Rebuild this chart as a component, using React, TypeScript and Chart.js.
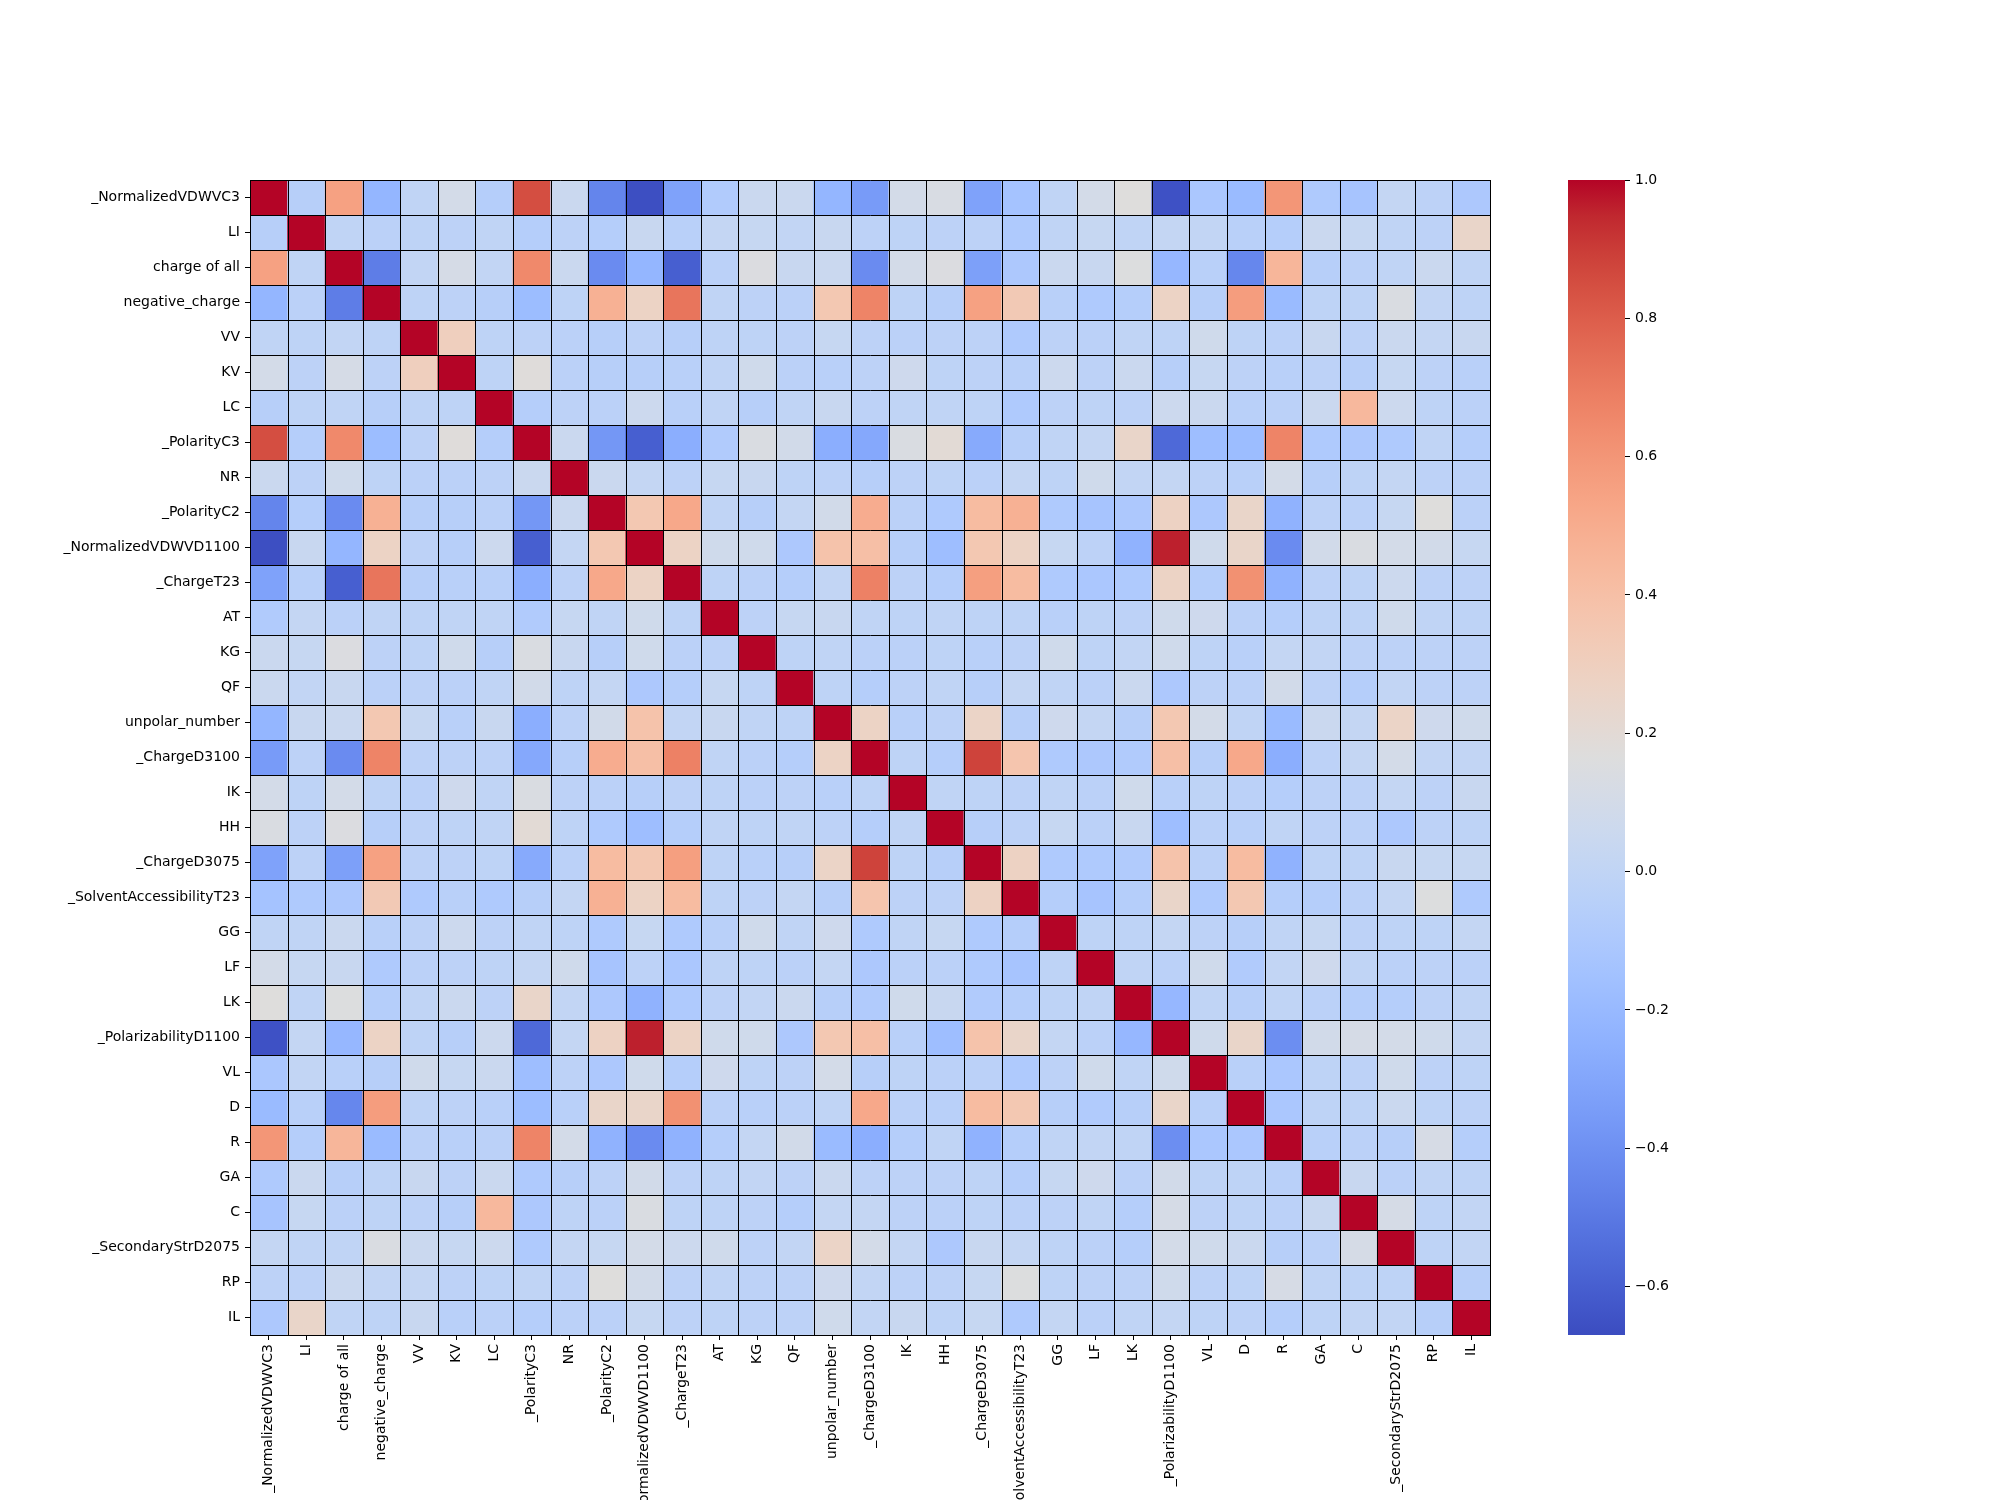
import React, { useEffect, useRef } from "react";
import { Chart, registerables } from "chart.js";

Chart.register(...registerables);

const LABELS = [
  "_NormalizedVDWVC3", "LI", "charge of all", "negative_charge", "VV", "KV", "LC",
  "_PolarityC3", "NR", "_PolarityC2", "_NormalizedVDWVD1100", "_ChargeT23", "AT", "KG",
  "QF", "unpolar_number", "_ChargeD3100", "IK", "HH", "_ChargeD3075",
  "_SolventAccessibilityT23", "GG", "LF", "LK", "_PolarizabilityD1100", "VL", "D", "R",
  "GA", "C", "_SecondaryStrD2075", "RP", "IL",
];

const VMIN = -0.67;
const VMAX = 1.0;
const CB_TICKS = [-0.6, -0.4, -0.2, 0.0, 0.2, 0.4, 0.6, 0.8, 1.0];

const R00 = [1, -0.05, 0.55, -0.22, 0.0, 0.1, -0.06, 0.85, 0.05, -0.45, -0.66, -0.32, -0.08, 0.05, 0.05, -0.22, -0.35, 0.1, 0.13, -0.32, -0.14, 0.0, 0.1, 0.17, -0.65, -0.11, -0.19, 0.6, -0.09, -0.13, 0.02, -0.02, -0.1];
const R01 = [-0.05, 1, 0.0, -0.03, -0.01, -0.02, 0.0, -0.06, -0.02, -0.06, 0.04, -0.04, 0.02, 0.03, 0.01, 0.04, -0.02, -0.01, -0.02, -0.02, -0.09, 0.0, 0.03, 0.0, 0.02, 0.01, -0.04, -0.06, 0.05, 0.03, 0.0, -0.02, 0.25];
const R02 = [0.55, 0.0, 1, -0.48, 0.01, 0.11, 0.01, 0.65, 0.05, -0.42, -0.22, -0.6, -0.03, 0.15, 0.04, 0.05, -0.42, 0.1, 0.15, -0.33, -0.1, 0.05, 0.04, 0.16, -0.21, -0.04, -0.44, 0.45, -0.05, -0.03, 0.0, 0.05, 0.0];
const R03 = [-0.22, -0.03, -0.48, 1, -0.01, -0.02, -0.05, -0.18, -0.01, 0.48, 0.27, 0.72, 0.0, -0.02, -0.03, 0.35, 0.67, -0.01, -0.05, 0.55, 0.34, -0.04, -0.09, -0.06, 0.27, -0.05, 0.57, -0.19, -0.01, -0.01, 0.14, 0.01, -0.01];
const R04 = [0.0, -0.01, 0.01, -0.01, 1, 0.3, -0.01, -0.02, -0.03, -0.05, -0.02, -0.05, -0.01, -0.01, -0.02, 0.03, -0.02, -0.03, -0.02, -0.02, -0.09, -0.02, -0.03, 0.0, -0.01, 0.08, -0.01, -0.03, 0.04, -0.02, 0.05, 0.02, 0.04];
const R05 = [0.1, -0.02, 0.11, -0.02, 0.3, 1, -0.01, 0.18, -0.03, -0.05, -0.05, -0.04, 0.0, 0.08, -0.03, -0.04, -0.02, 0.07, -0.01, -0.02, -0.04, 0.06, -0.02, 0.05, -0.05, 0.03, -0.02, -0.04, -0.02, -0.05, 0.03, -0.02, -0.04];
const R06 = [-0.05, -0.01, 0.0, -0.05, -0.01, -0.01, 1, -0.06, -0.02, -0.03, 0.06, -0.04, 0.0, -0.05, 0.0, 0.04, -0.02, 0.0, 0.0, -0.01, -0.09, -0.02, -0.01, -0.02, 0.06, 0.05, -0.04, -0.03, 0.05, 0.44, 0.06, -0.01, -0.03];
const R07 = [0.85, -0.06, 0.65, -0.18, -0.02, 0.18, -0.06, 1, 0.05, -0.37, -0.6, -0.26, -0.08, 0.14, 0.09, -0.26, -0.29, 0.14, 0.2, -0.28, -0.05, 0.0, 0.02, 0.25, -0.56, -0.17, -0.18, 0.67, -0.09, -0.1, -0.09, 0.0, -0.06];
const R08 = [0.05, -0.02, 0.08, -0.01, -0.03, -0.03, -0.02, 0.05, 1, 0.05, 0.02, -0.02, 0.03, 0.04, -0.01, -0.02, -0.05, -0.02, -0.01, -0.03, 0.02, -0.01, 0.08, 0.01, 0.02, -0.02, -0.04, 0.1, -0.05, -0.01, 0.02, -0.02, -0.03];
const R09 = [-0.45, -0.06, -0.42, 0.48, -0.05, -0.05, -0.03, -0.37, 0.05, 1, 0.35, 0.52, 0.0, -0.05, 0.02, 0.09, 0.5, -0.03, -0.09, 0.42, 0.48, -0.09, -0.13, -0.1, 0.28, -0.1, 0.25, -0.24, -0.02, -0.03, 0.03, 0.17, -0.03];
const R10 = [-0.66, 0.04, -0.22, 0.27, -0.02, -0.05, 0.06, -0.6, 0.02, 0.35, 1, 0.27, 0.08, 0.08, -0.1, 0.38, 0.4, -0.05, -0.17, 0.35, 0.27, 0.03, -0.02, -0.24, 0.96, 0.08, 0.25, -0.42, 0.09, 0.14, 0.1, 0.09, 0.03];
const R11 = [-0.32, -0.04, -0.6, 0.72, -0.05, -0.04, -0.04, -0.26, -0.02, 0.52, 0.27, 1, -0.01, -0.03, -0.06, 0.01, 0.68, -0.02, -0.06, 0.56, 0.42, -0.09, -0.11, -0.09, 0.27, -0.06, 0.62, -0.24, -0.02, -0.01, 0.06, -0.02, -0.02];
const R12 = [-0.08, 0.02, -0.03, 0.0, -0.01, 0.0, 0.0, -0.08, 0.03, 0.0, 0.08, -0.01, 1, -0.02, 0.03, 0.04, 0.0, -0.01, 0.0, -0.01, -0.01, -0.04, -0.01, -0.02, 0.08, 0.07, -0.03, -0.06, -0.01, -0.01, 0.08, 0.0, -0.01];
const R13 = [0.05, 0.03, 0.15, -0.02, -0.01, 0.08, -0.05, 0.14, 0.04, -0.05, 0.08, -0.03, -0.02, 1, -0.01, 0.0, -0.03, -0.03, -0.01, -0.04, -0.02, 0.08, -0.01, 0.01, 0.08, -0.01, -0.04, 0.02, 0.01, -0.02, -0.02, -0.02, -0.02];
const R14 = [0.05, 0.01, 0.04, -0.03, -0.02, -0.03, 0.0, 0.09, -0.01, 0.02, -0.1, -0.06, 0.03, -0.01, 1, -0.01, -0.06, -0.02, 0.0, -0.05, 0.02, 0.0, -0.03, 0.05, -0.1, -0.02, -0.03, 0.09, -0.02, -0.06, 0.01, -0.02, -0.02];
const R15 = [-0.22, 0.04, 0.05, 0.35, 0.03, -0.04, 0.04, -0.26, -0.02, 0.09, 0.38, 0.01, 0.04, 0.0, -0.01, 1, 0.27, -0.04, -0.02, 0.26, -0.05, 0.07, 0.02, -0.05, 0.35, 0.1, 0.0, -0.19, 0.05, 0.02, 0.26, 0.07, 0.08];
const R16 = [-0.35, -0.02, -0.42, 0.67, -0.02, -0.02, -0.02, -0.29, -0.05, 0.5, 0.4, 0.68, 0.0, -0.03, -0.06, 0.27, 1, -0.01, -0.06, 0.88, 0.37, -0.09, -0.1, -0.08, 0.4, -0.05, 0.52, -0.26, -0.02, 0.02, 0.1, 0.01, 0.01];
const R17 = [0.1, -0.01, 0.1, -0.01, -0.03, 0.07, 0.0, 0.14, -0.02, -0.03, -0.05, -0.02, -0.01, -0.03, -0.02, -0.04, -0.01, 1, 0.0, -0.01, -0.02, 0.0, -0.03, 0.08, -0.04, -0.01, -0.03, -0.06, -0.02, -0.02, 0.02, -0.02, 0.04];
const R18 = [0.14, -0.02, 0.15, -0.05, -0.02, -0.01, 0.0, 0.2, -0.01, -0.09, -0.17, -0.06, 0.0, -0.01, 0.0, -0.02, -0.06, 0.0, 1, -0.05, -0.02, 0.03, -0.03, 0.04, -0.17, -0.03, -0.04, 0.0, -0.02, -0.03, -0.1, -0.02, -0.01];
const R19 = [-0.32, -0.02, -0.33, 0.55, -0.02, -0.02, -0.01, -0.28, -0.03, 0.42, 0.35, 0.56, -0.01, -0.04, -0.05, 0.26, 0.88, -0.01, -0.05, 1, 0.28, -0.09, -0.09, -0.08, 0.38, -0.03, 0.42, -0.24, -0.01, -0.01, 0.04, 0.03, 0.03];
const R20 = [-0.14, -0.09, -0.1, 0.34, -0.09, -0.04, -0.09, -0.05, 0.02, 0.48, 0.27, 0.42, -0.01, -0.02, 0.02, -0.05, 0.37, -0.02, -0.02, 0.28, 1, -0.06, -0.13, -0.06, 0.25, -0.09, 0.35, -0.06, -0.06, -0.03, 0.02, 0.16, -0.09];
const R21 = [0.0, 0.0, 0.05, -0.04, -0.02, 0.06, -0.02, 0.0, -0.01, -0.09, 0.03, -0.09, -0.04, 0.08, 0.0, 0.07, -0.09, 0.0, 0.03, -0.09, -0.06, 1, -0.01, -0.01, 0.02, -0.02, -0.05, 0.0, 0.03, -0.02, -0.01, -0.01, 0.02];
const R22 = [0.1, 0.03, 0.04, -0.09, -0.03, -0.02, -0.01, 0.02, 0.08, -0.13, -0.02, -0.11, -0.01, -0.01, -0.03, 0.02, -0.1, -0.03, -0.03, -0.09, -0.13, -0.01, 1, 0.0, -0.03, 0.08, -0.08, 0.01, 0.07, 0.0, -0.03, -0.02, -0.03];
const R23 = [0.17, 0.0, 0.16, -0.06, 0.0, 0.05, -0.02, 0.25, 0.01, -0.1, -0.24, -0.09, -0.02, 0.01, 0.05, -0.05, -0.08, 0.08, 0.04, -0.08, -0.06, -0.01, 0.0, 1, -0.21, 0.0, -0.05, 0.0, -0.03, -0.06, -0.06, -0.02, 0.0];
const R24 = [-0.65, 0.02, -0.21, 0.27, -0.01, -0.05, 0.06, -0.56, 0.02, 0.28, 0.96, 0.27, 0.08, 0.08, -0.1, 0.35, 0.4, -0.04, -0.17, 0.38, 0.25, 0.02, -0.03, -0.21, 1, 0.08, 0.25, -0.41, 0.09, 0.11, 0.1, 0.08, 0.02];
const R25 = [-0.11, 0.01, -0.04, -0.05, 0.08, 0.03, 0.05, -0.17, -0.02, -0.1, 0.08, -0.06, 0.07, -0.01, -0.02, 0.1, -0.05, -0.01, -0.03, -0.03, -0.09, -0.02, 0.08, 0.0, 0.08, 1, -0.04, -0.11, -0.01, -0.02, 0.08, -0.02, -0.01];
const R26 = [-0.19, -0.04, -0.44, 0.57, -0.01, -0.02, -0.04, -0.18, -0.04, 0.25, 0.25, 0.62, -0.03, -0.04, -0.03, 0.0, 0.52, -0.03, -0.04, 0.42, 0.35, -0.05, -0.08, -0.05, 0.25, -0.04, 1, -0.11, -0.01, -0.01, 0.05, -0.01, -0.02];
const R27 = [0.6, -0.06, 0.45, -0.19, -0.03, -0.04, -0.03, 0.67, 0.1, -0.24, -0.42, -0.24, -0.06, 0.02, 0.09, -0.19, -0.26, -0.06, 0.0, -0.24, -0.06, 0.0, 0.01, 0.0, -0.41, -0.11, -0.11, 1, -0.04, -0.03, -0.05, 0.12, -0.06];
const R28 = [-0.09, 0.05, -0.05, -0.01, 0.04, -0.02, 0.05, -0.09, -0.05, -0.02, 0.09, -0.02, -0.01, 0.01, -0.02, 0.05, -0.02, -0.02, -0.02, -0.01, -0.06, 0.03, 0.07, -0.03, 0.09, -0.01, -0.01, -0.04, 1, 0.04, -0.03, 0.0, -0.01];
const R29 = [-0.13, 0.03, -0.03, -0.01, -0.02, -0.05, 0.44, -0.1, -0.01, -0.03, 0.14, -0.01, -0.01, -0.02, -0.06, 0.02, 0.02, -0.02, -0.03, -0.01, -0.03, -0.02, 0.0, -0.06, 0.11, -0.02, -0.01, -0.03, 0.04, 1, 0.11, -0.01, 0.01];
const R30 = [0.02, 0.0, 0.0, 0.14, 0.05, 0.03, 0.06, -0.09, 0.02, 0.03, 0.1, 0.06, 0.08, -0.02, 0.01, 0.26, 0.1, 0.02, -0.1, 0.04, 0.02, -0.01, -0.03, -0.06, 0.1, 0.08, 0.05, -0.05, -0.03, 0.11, 1, -0.01, 0.01];
const R31 = [-0.02, -0.02, 0.05, 0.01, 0.02, -0.02, -0.01, 0.0, -0.02, 0.17, 0.09, -0.02, 0.0, -0.02, -0.02, 0.07, 0.01, -0.02, -0.02, 0.03, 0.16, -0.01, -0.02, -0.02, 0.08, -0.02, -0.01, 0.12, 0.0, -0.01, -0.01, 1, -0.05];
const R32 = [-0.1, 0.25, 0.0, -0.01, 0.04, -0.04, -0.03, -0.06, -0.03, -0.03, 0.03, -0.02, -0.01, -0.02, -0.02, 0.08, 0.01, 0.04, -0.01, 0.03, -0.09, 0.02, -0.03, 0.0, 0.02, -0.01, -0.02, -0.06, -0.01, 0.01, 0.01, -0.05, 1];

const MATRIX = [
  R00, R01, R02, R03, R04, R05, R06, R07, R08, R09, R10, R11, R12, R13, R14, R15, R16,
  R17, R18, R19, R20, R21, R22, R23, R24, R25, R26, R27, R28, R29, R30, R31, R32,
];

// coolwarm colormap anchors (evenly spaced from 0 to 1)
const COOLWARM: number[][] = [
  [59, 76, 192], [68, 90, 204], [77, 104, 215], [87, 117, 225], [98, 130, 234],
  [108, 142, 241], [119, 154, 247], [130, 165, 251], [141, 176, 254], [152, 185, 255],
  [163, 194, 255], [174, 201, 253], [184, 208, 249], [194, 213, 244], [204, 217, 238],
  [213, 219, 230], [221, 221, 221], [229, 216, 209], [236, 211, 197], [241, 204, 185],
  [245, 196, 173], [247, 187, 160], [247, 177, 148], [247, 166, 135], [244, 154, 123],
  [241, 141, 111], [236, 127, 99], [229, 112, 88], [222, 96, 77], [213, 80, 66],
  [203, 62, 56], [192, 40, 47], [180, 4, 38],
];

function rgbOf(c: number[]): string {
  return `rgb(${Math.round(c[0])},${Math.round(c[1])},${Math.round(c[2])})`;
}

function cmap(v: number): string {
  let t = (v - VMIN) / (VMAX - VMIN);
  t = Math.max(0, Math.min(1, t));
  const x = t * (COOLWARM.length - 1);
  const i = Math.min(Math.floor(x), COOLWARM.length - 2);
  const f = x - i;
  const a = COOLWARM[i];
  const b = COOLWARM[i + 1];
  return rgbOf([a[0] + (b[0] - a[0]) * f, a[1] + (b[1] - a[1]) * f, a[2] + (b[2] - a[2]) * f]);
}

function fmtTick(v: number): string {
  const s = Math.abs(v).toFixed(1);
  return v < -1e-9 ? "\u2212" + s : s;
}

// Draws the thin black cell edges (seaborn linewidths / linecolor) on top of the cells,
// at the category boundaries given by the chart's own scales.
const cellEdges = {
  id: "cellEdges",
  afterDatasetsDraw(chart: any) {
    const xs = chart.scales.x;
    const ys = chart.scales.y;
    const ctx = chart.ctx;
    const n = LABELS.length;
    const x0 = xs.getPixelForValue(0);
    const x1 = xs.getPixelForValue(1);
    const half = (x1 - x0) / 2;
    const top = ys.getPixelForValue(0);
    const bottom = ys.getPixelForValue(n);
    const left = x0 - half;
    const right = xs.getPixelForValue(n - 1) + half;
    ctx.save();
    ctx.strokeStyle = "#000";
    ctx.lineWidth = 1;
    ctx.beginPath();
    for (let i = 0; i <= n; i++) {
      const x = Math.round(i < n ? xs.getPixelForValue(i) - half : right) + 0.5;
      ctx.moveTo(x, Math.round(top));
      ctx.lineTo(x, Math.round(bottom) + 1);
      const y = Math.round(ys.getPixelForValue(i)) + 0.5;
      ctx.moveTo(Math.round(left), y);
      ctx.lineTo(Math.round(right) + 1, y);
    }
    ctx.stroke();
    ctx.restore();
  },
};

export default function App() {
  const mainRef = useRef<HTMLCanvasElement | null>(null);
  const cbRef = useRef<HTMLCanvasElement | null>(null);

  useEffect(() => {
    Chart.defaults.font.family = "'DejaVu Sans', sans-serif";
    Chart.defaults.font.size = 14;
    Chart.defaults.color = "#000";

    const datasets = MATRIX.map((row, r) => ({
      label: LABELS[r],
      data: row.map(() => [r, r + 1] as [number, number]),
      backgroundColor: row.map((v) => cmap(v)),
      borderWidth: 0,
      barPercentage: 1,
      categoryPercentage: 1,
      grouped: false,
    }));

    const main = new Chart(mainRef.current as HTMLCanvasElement, {
      type: "bar",
      data: { labels: LABELS, datasets: datasets as any },
      plugins: [cellEdges],
      options: {
        animation: false,
        responsive: false,
        devicePixelRatio: 1,
        layout: { padding: { left: 0, right: 510, top: 180, bottom: 0 } },
        plugins: { legend: { display: false }, tooltip: { enabled: false } },
        scales: {
          x: {
            type: "category",
            offset: true,
            afterFit: (s: any) => {
              s.height = 165;
            },
            grid: {
              offset: false,
              drawOnChartArea: false,
              drawTicks: true,
              tickLength: 5,
              tickColor: "#000",
              tickWidth: 1,
            },
            border: { display: false },
            ticks: {
              autoSkip: false,
              maxRotation: 90,
              minRotation: 90,
              padding: 4,
              color: "#000",
              font: { size: 14 },
            },
          },
          y: {
            type: "linear",
            reverse: true,
            min: 0,
            max: LABELS.length,
            afterBuildTicks: (s: any) => {
              s.ticks = LABELS.map((_, i) => ({ value: i + 0.5 }));
            },
            afterFit: (s: any) => {
              s.width = 250;
            },
            grid: {
              drawOnChartArea: false,
              drawTicks: true,
              tickLength: 5,
              tickColor: "#000",
              tickWidth: 1,
            },
            border: { display: false },
            ticks: {
              autoSkip: false,
              padding: 5,
              color: "#000",
              font: { size: 14 },
              callback: (v: any) => LABELS[Math.floor(Number(v))],
            },
          },
        },
      },
    });

    const cb = new Chart(cbRef.current as HTMLCanvasElement, {
      type: "bar",
      data: {
        labels: [""],
        datasets: [
          {
            data: [[VMIN, VMAX]] as any,
            backgroundColor: (ctx: any) => {
              const ch = ctx.chart;
              const a = ch.chartArea;
              if (!a) return "#ddd";
              const g = ch.ctx.createLinearGradient(0, a.bottom, 0, a.top);
              COOLWARM.forEach((c, i) => g.addColorStop(i / (COOLWARM.length - 1), rgbOf(c)));
              return g;
            },
            borderWidth: 0,
            barPercentage: 1,
            categoryPercentage: 1,
          } as any,
        ],
      },
      options: {
        animation: false,
        responsive: false,
        devicePixelRatio: 1,
        layout: { padding: { left: 1568, right: 2000 - 1625 - 80, top: 180, bottom: 165 } },
        plugins: { legend: { display: false }, tooltip: { enabled: false } },
        scales: {
          x: { display: false },
          y: {
            type: "linear",
            position: "right",
            min: VMIN,
            max: VMAX,
            afterBuildTicks: (s: any) => {
              s.ticks = CB_TICKS.map((v) => ({ value: v }));
            },
            afterFit: (s: any) => {
              s.width = 80;
            },
            grid: {
              drawOnChartArea: false,
              drawTicks: true,
              tickLength: 5,
              tickColor: "#000",
              tickWidth: 1,
            },
            border: { display: false },
            ticks: {
              autoSkip: false,
              padding: 5,
              color: "#000",
              font: { size: 14 },
              callback: (v: any) => fmtTick(Number(v)),
            },
          },
        },
      },
    });

    return () => {
      main.destroy();
      cb.destroy();
    };
  }, []);

  return (
    <div style={{ position: "absolute", left: 0, top: 0, width: 2000, height: 1500, overflow: "hidden", background: "#fff" }}>
      <canvas ref={mainRef} width={2000} height={1500} style={{ position: "absolute", left: 0, top: 0, width: 2000, height: 1500 }} />
      <canvas ref={cbRef} width={2000} height={1500} style={{ position: "absolute", left: 0, top: 0, width: 2000, height: 1500, pointerEvents: "none" }} />
    </div>
  );
}
